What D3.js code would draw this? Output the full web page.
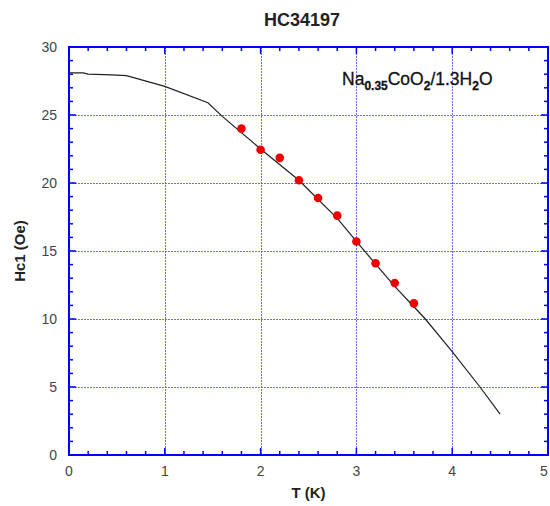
<!DOCTYPE html>
<html>
<head>
<meta charset="utf-8">
<script src="https://cdn.jsdelivr.net/npm/d3@7"></script>
<style>
  body { margin: 0; background: #fff; }
  text { font-family: "Liberation Sans", Arial, sans-serif; }
</style>
</head>
<body>
<div id="chart"></div>
<script>
(function() {
  var width = 550,
      height = 506;

  // measured points (red dots)
  var tempPoints = [1.8, 2.0, 2.2, 2.4, 2.6, 2.8, 3.0, 3.2, 3.4, 3.6];
  var hc1Points = [24.0, 22.45, 21.85, 20.2, 18.9, 17.6, 15.7, 14.1, 12.65, 11.15];

  // fit curve (black line)
  var tempCurve = [0, 0.15, 0.2, 0.45, 0.6, 1.0, 1.45, 1.6, 2.0, 2.4, 2.8, 3.0, 3.4, 3.6, 3.72, 4.0, 4.29, 4.5];
  var hc1Curve = [28.1, 28.1, 28.0, 27.95, 27.9, 27.1, 25.9, 24.9, 22.5, 20.2, 17.4, 15.7, 12.4, 10.9, 10.0, 7.6, 5.0, 3.0];

  var xTicks = [0, 1, 2, 3, 4, 5];
  var yTicks = [0, 5, 10, 15, 20, 25, 30];

  var margin = {top: 47, right: 2, bottom: 51, left: 69};
  var w = width - margin.left - margin.right,
      h = height - margin.top - margin.bottom;

  var svg = d3.select("#chart").append("svg")
      .attr("width", width)
      .attr("height", height);

  var g = svg.append("g")
      .attr("transform", "translate(" + margin.left + "," + margin.top + ")");

  var x = d3.scaleLinear().domain([0, 5]).range([0, w]);
  var y = d3.scaleLinear().domain([0, 30]).range([h, 0]);

  // grid (dotted blue)
  g.selectAll(".vgrid").data(xTicks.slice(1, -1)).enter()
    .append("line")
    .attr("x1", d => Math.round(x(d)) + 0.5).attr("x2", d => Math.round(x(d)) + 0.5)
    .attr("y1", 0).attr("y2", h)
    .attr("stroke", "#6a6aff").attr("stroke-width", 1)
    .attr("stroke-dasharray", "2,1");
  g.selectAll(".hgrid").data(yTicks.slice(1, -1)).enter()
    .append("line")
    .attr("y1", d => Math.round(y(d)) + 0.5).attr("y2", d => Math.round(y(d)) + 0.5)
    .attr("x1", 0).attr("x2", w)
    .attr("stroke", "#6a6aff").attr("stroke-width", 1)
    .attr("stroke-dasharray", "2,1");

  // inward ticks on all four sides
  var xMinor = d3.range(0, 5.001, 0.2);
  var yMinor = d3.range(0, 30.001, 1);
  var isMajor = function(v, step) { return Math.abs(v / step - Math.round(v / step)) < 1e-6; };

  g.selectAll(".xt").data(xMinor).enter().append("g").each(function(d) {
    var len = isMajor(d, 1) ? 7 : 4;
    d3.select(this).append("line")
      .attr("x1", x(d)).attr("x2", x(d)).attr("y1", h).attr("y2", h - len);
    d3.select(this).append("line")
      .attr("x1", x(d)).attr("x2", x(d)).attr("y1", 0).attr("y2", len);
  }).attr("stroke", "#0000ff").attr("stroke-width", 1.5);

  g.selectAll(".yt").data(yMinor).enter().append("g").each(function(d) {
    var len = isMajor(d, 5) ? 7 : 4;
    d3.select(this).append("line")
      .attr("y1", y(d)).attr("y2", y(d)).attr("x1", 0).attr("x2", len);
    d3.select(this).append("line")
      .attr("y1", y(d)).attr("y2", y(d)).attr("x1", w).attr("x2", w - len);
  }).attr("stroke", "#0000ff").attr("stroke-width", 1.5);

  // frame
  g.append("rect")
    .attr("width", w).attr("height", h)
    .attr("fill", "none")
    .attr("stroke", "#0000ff").attr("stroke-width", 2);

  // tick labels
  g.selectAll(".xl").data(xTicks).enter().append("text")
    .attr("x", d => Math.min(x(d), w - 4)).attr("y", h + 21)
    .attr("text-anchor", "middle")
    .attr("font-size", 14).attr("fill", "#444")
    .text(d => d);
  g.selectAll(".yl").data(yTicks).enter().append("text")
    .attr("x", -12).attr("y", d => y(d) + 5)
    .attr("text-anchor", "end")
    .attr("font-size", 14).attr("fill", "#444")
    .text(d => d);

  // curve
  var line = d3.line()
    .x(function(d, i) { return x(tempCurve[i]); })
    .y(function(d, i) { return y(hc1Curve[i]); });
  g.append("path")
    .attr("d", line(tempCurve))
    .attr("fill", "none")
    .attr("stroke", "#222").attr("stroke-width", 1.2);

  // points
  g.selectAll(".pt").data(tempPoints).enter().append("circle")
    .attr("cx", d => x(d))
    .attr("cy", (d, i) => y(hc1Points[i]))
    .attr("r", 4.3)
    .attr("fill", "#ee0000");

  // titles
  svg.append("text")
    .attr("x", 302).attr("y", 26)
    .attr("text-anchor", "middle")
    .attr("font-size", 18).attr("font-weight", "bold").attr("fill", "#222")
    .text("HC34197");
  svg.append("text")
    .attr("x", margin.left + w / 2).attr("y", 498)
    .attr("text-anchor", "middle")
    .attr("font-size", 15).attr("font-weight", "bold").attr("fill", "#222")
    .text("T (K)");
  svg.append("text")
    .attr("transform", "translate(25," + (margin.top + h / 2) + ") rotate(-90)")
    .attr("text-anchor", "middle")
    .attr("font-size", 15).attr("font-weight", "bold").attr("fill", "#222")
    .text("Hc1 (Oe)");

  // compound label
  var lab = svg.append("text")
    .attr("x", 342).attr("y", 85)
    .attr("font-size", 17.5).attr("fill", "#111")
    .attr("stroke", "#111").attr("stroke-width", 0.3);
  lab.append("tspan").text("Na");
  lab.append("tspan").attr("dy", 5).attr("font-size", 12).attr("font-weight", "bold").text("0.35");
  lab.append("tspan").attr("dy", -5).text("CoO");
  lab.append("tspan").attr("dy", 5).attr("font-size", 12).attr("font-weight", "bold").text("2");
  lab.append("tspan").attr("dy", -5).text("/1.3H");
  lab.append("tspan").attr("dy", 5).attr("font-size", 12).attr("font-weight", "bold").text("2");
  lab.append("tspan").attr("dy", -5).text("O");
})();
</script>
</body>
</html>
